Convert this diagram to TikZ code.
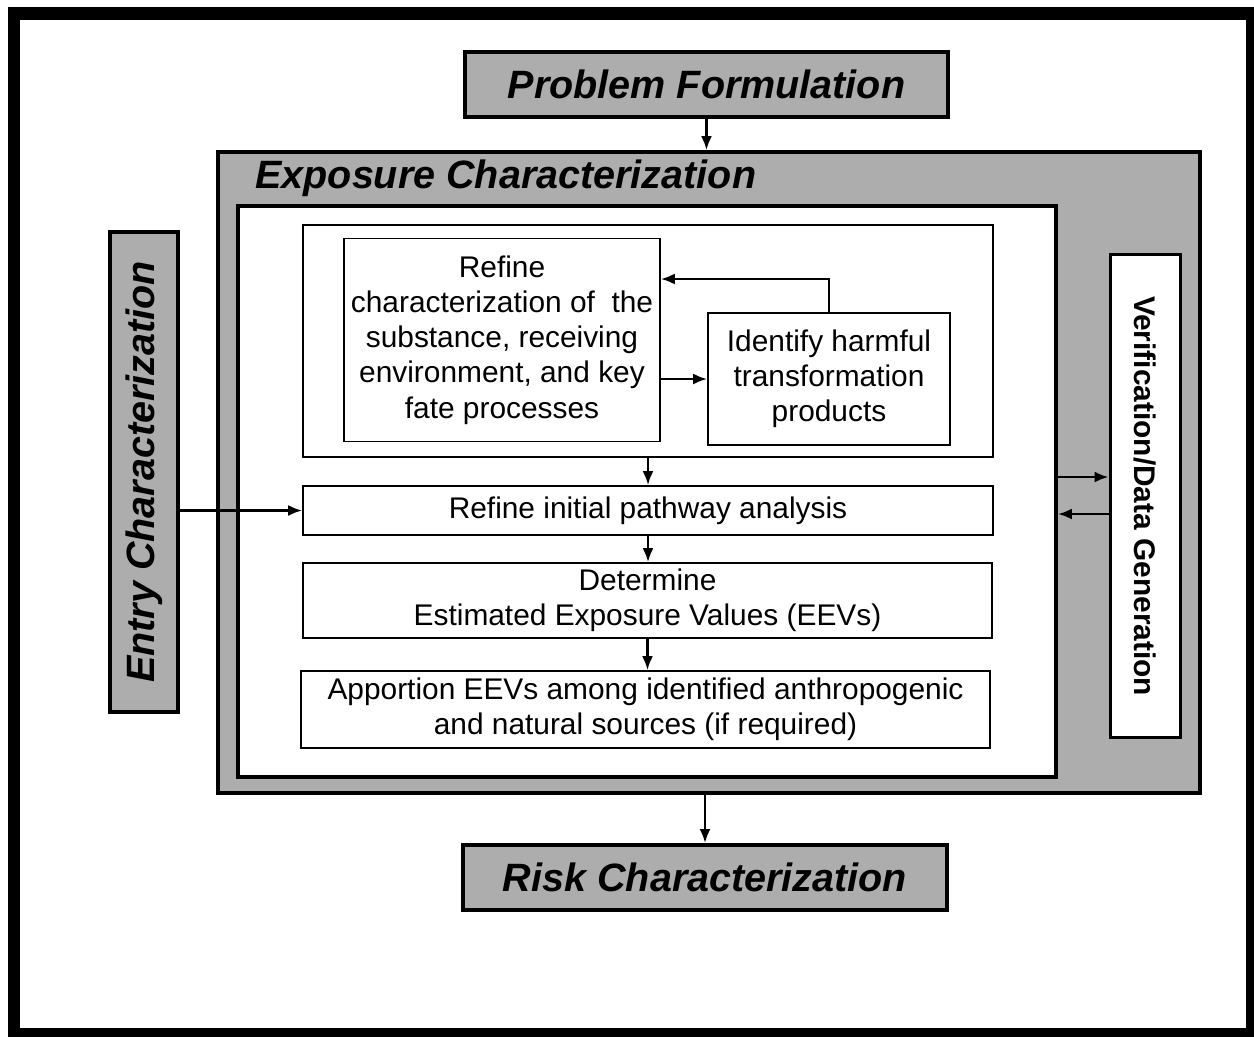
\documentclass[tikz,border=0pt]{standalone}
\usepackage{fontspec}
\setmainfont{Liberation Sans}
\usetikzlibrary{arrows.meta}
\tikzset{
	graybox/.style={draw, line width=0.08cm, fill=black!32, inner sep=0pt},
	whitebox/.style={draw, line width=0.035cm, fill=white, inner sep=0pt, align=center,
		font=\fontsize{17}{20}\selectfont},
	headtext/.style={font=\fontsize{22.5}{26}\selectfont\bfseries\itshape},
	arr/.style={line width=0.05cm, -{Latex[length=0.28cm,width=0.22cm]}}
}
\begin{document}
\begin{tikzpicture}[x=0.02cm, y=-0.02cm]
	\useasboundingbox (0,0) rectangle (1254,1036);
	\draw[line width=0.26cm] (14,13) rectangle (1252,1034);

	\node[graybox, headtext, minimum width=9.66cm, minimum height=1.3cm] (pf) at (706.5,84.5) {Problem Formulation};
	\node[graybox, minimum width=19.64cm, minimum height=12.82cm] (exp) at (709,472.5) {};
	\node[headtext, anchor=west, inner sep=0pt] (exptitle) at (255,178) {Exposure Characterization};
	\node[draw, line width=0.08cm, fill=white, minimum width=16.36cm, minimum height=11.42cm] (inner) at (647,491.5) {};
	\node[whitebox, minimum width=13.8cm, minimum height=4.64cm] (upper) at (648,341) {};
	\node[whitebox, minimum width=6.32cm, minimum height=4.06cm] (refine) at (502,340) {Refine\\characterization of \ the\\substance, receiving\\environment, and key\\fate processes};
	\node[whitebox, minimum width=4.84cm, minimum height=2.64cm] (identify) at (829,379) {Identify harmful\\transformation\\products};
	\node[whitebox, minimum width=13.8cm, minimum height=0.98cm] (pathway) at (648,510.5) {Refine initial pathway analysis};
	\node[whitebox, minimum width=13.78cm, minimum height=1.5cm] (determine) at (647.5,600.5) {Determine\\Estimated Exposure Values (EEVs)};
	\node[whitebox, minimum width=13.78cm, minimum height=1.54cm] (apportion) at (645.5,709.5) {Apportion EEVs among identified anthropogenic\\and natural sources (if required)};

	\node[graybox, headtext, rotate=90, minimum width=9.6cm, minimum height=1.36cm] (entry) at (144,472) {Entry Characterization};
	\node[whitebox, line width=0.06cm, rotate=-90, minimum width=9.68cm, minimum height=1.4cm,
		font=\fontsize{17}{20}\selectfont\bfseries] (verif) at (1145,496) {Verification/Data Generation};
	\node[graybox, headtext, minimum width=9.68cm, minimum height=1.3cm] (risk) at (705,877.5) {Risk Characterization};

	\coordinate (fb) at (0,279);
	\coordinate (vout) at (0,477);
	\coordinate (vin) at (0,514);

	\path[draw,arr] (pf.south) -- (pf.south |- exp.north);
	\path[draw,arr] (refine.east |- identify) -- (identify.west);
	\path[draw,arr] (identify.north) |- (refine.east |- fb);
	\path[draw,arr] (upper.south) -- (pathway.north);
	\path[draw,arr] (pathway.south) -- (pathway.south |- determine.north);
	\path[draw,arr] (determine.south) -- (determine.south |- apportion.north);
	\path[draw,arr] (entry.south |- pathway) -- (pathway.west);
	\path[draw,arr] (inner.east |- vout) -- (verif.south |- vout);
	\path[draw,arr] (verif.south |- vin) -- (inner.east |- vin);
	\path[draw,arr] (exp.south -| risk.north) -- (risk.north);
\end{tikzpicture}
\end{document}
